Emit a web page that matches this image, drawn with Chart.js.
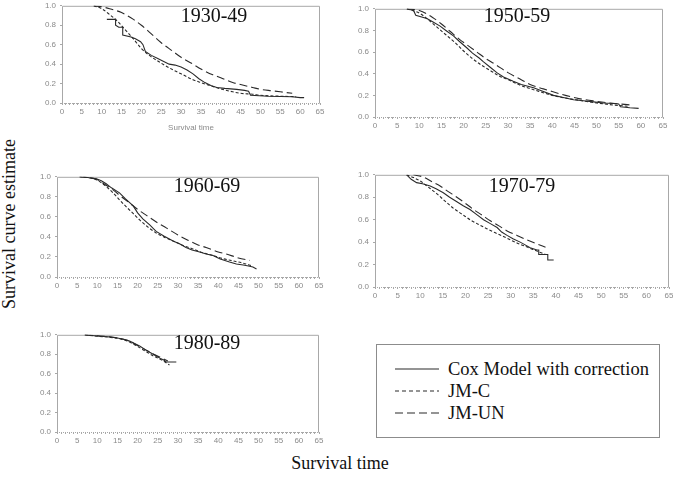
<!DOCTYPE html>
<html>
<head>
<meta charset="utf-8">
<script src="https://cdn.jsdelivr.net/npm/chart.js@4"></script>
<style>
  body { margin: 0; background: #fff; font-family: "Liberation Serif", "Times New Roman", serif; }
  #wrap { position: relative; width: 673px; height: 487px; overflow: hidden; }
  canvas { position: absolute; }
  .txt { position: absolute; white-space: nowrap; color: #111; line-height: 1; }
  .ptitle { font-size: 20px; transform: translate(-50%, -50%); }
  #ylab { font-size: 18px; left: 9px; top: 224px; transform: translate(-50%, -50%) rotate(-90deg); }
  #xlab { font-size: 18px; left: 340px; top: 463px; transform: translate(-50%, -50%); }
  #legend { position: absolute; left: 376px; top: 344px; width: 284px; height: 94px; border: 1px solid #8c8c8c; box-sizing: border-box; }
  .row { position: absolute; left: 18px; height: 20px; display: flex; align-items: center; font-size: 18.5px; color: #111; }
  .row svg { margin-right: 9px; }
</style>
</head>
<body>
<div id="wrap">
  <div id="ylab" class="txt">Survival curve estimate</div>
  <div id="xlab" class="txt">Survival time</div>
  <div id="legend"></div>
</div>
<script>
// ── data (survival time, survival estimate) ─────────────────────────────────
const SERIES_NAMES = ['Cox Model with correction', 'JM-C', 'JM-UN'];
const PANEL_TITLES = ['1930-49', '1950-59', '1960-69', '1970-79', '1980-89'];
const X_TICKS = [0, 5, 10, 15, 20, 25, 30, 35, 40, 45, 50, 55, 60, 65];
const Y_TICKS = [0.0, 0.1, 0.2, 0.3, 0.4, 0.5, 0.6, 0.7, 0.8, 0.9, 1.0];

// 1930-49
const cox30_t = [11.3, 13.5, 13.5, 14.3, 15.3, 15.3, 17.4, 18.5, 19.8, 20.4, 21, 22.5, 24, 25.5, 27, 28.5, 30, 31.5, 33, 34.5, 36, 37.5, 39, 41, 44, 46, 47, 47.5, 52, 58, 60, 61];
const cox30_s = [0.86, 0.86, 0.80, 0.78, 0.78, 0.70, 0.68, 0.66, 0.63, 0.60, 0.53, 0.49, 0.46, 0.43, 0.40, 0.39, 0.37, 0.34, 0.30, 0.25, 0.21, 0.18, 0.16, 0.15, 0.14, 0.13, 0.12, 0.08, 0.07, 0.065, 0.055, 0.055];
const jmc30_t = [8, 10, 12, 14, 16, 18, 20, 22, 25, 28, 30, 33, 35, 38, 40, 43, 45, 48, 50, 55, 59];
const jmc30_s = [1.0, 0.97, 0.91, 0.84, 0.75, 0.66, 0.56, 0.49, 0.41, 0.34, 0.30, 0.24, 0.21, 0.17, 0.145, 0.115, 0.10, 0.09, 0.08, 0.07, 0.065];
const jmu30_t = [8, 10, 12, 15, 18, 20, 22, 25, 28, 30, 33, 35, 38, 40, 43, 45, 48, 50, 53, 55, 58];
const jmu30_s = [1.0, 0.99, 0.97, 0.93, 0.86, 0.80, 0.73, 0.62, 0.53, 0.47, 0.40, 0.35, 0.29, 0.26, 0.21, 0.19, 0.16, 0.14, 0.125, 0.115, 0.10];

// 1950-59
const cox50_t = [7.2, 8.7, 9.2, 11.7, 13, 14.7, 16, 17.7, 19, 20.7, 22, 23.5, 24.5, 26, 27.5, 29, 31.2, 33, 35.8, 38, 40.3, 42.5, 44.8, 47, 49.3, 51.5, 53.8, 55, 55.4, 57.5, 59.5];
const cox50_s = [1.0, 0.985, 0.94, 0.91, 0.88, 0.84, 0.80, 0.75, 0.70, 0.64, 0.59, 0.545, 0.51, 0.46, 0.41, 0.37, 0.33, 0.30, 0.27, 0.235, 0.20, 0.18, 0.16, 0.15, 0.14, 0.13, 0.125, 0.12, 0.095, 0.085, 0.08];
const jmc50_t = [7.2, 10, 12, 14, 16, 18, 20, 22, 24, 26, 28, 30, 33, 36, 40, 43, 46, 50, 54, 57];
const jmc50_s = [1.0, 0.96, 0.90, 0.83, 0.76, 0.69, 0.61, 0.54, 0.48, 0.43, 0.38, 0.345, 0.29, 0.25, 0.20, 0.175, 0.155, 0.13, 0.11, 0.10];
const jmu50_t = [7.2, 10, 13, 15, 17, 19, 21, 23, 25, 27, 30, 33, 35, 38, 40, 43, 46, 50, 53, 58];
const jmu50_s = [1.0, 0.985, 0.92, 0.86, 0.79, 0.72, 0.66, 0.60, 0.54, 0.49, 0.41, 0.345, 0.30, 0.26, 0.235, 0.20, 0.17, 0.145, 0.13, 0.11];

// 1960-69
const cox60_t = [6.5, 8, 9.8, 11, 12.2, 13.5, 15.5, 17, 18.9, 20, 21.3, 23, 24.6, 26.5, 28.8, 30.5, 32, 33.5, 35.4, 37, 38.7, 40.5, 42.8, 44.5, 46.2, 47.5, 48.6, 49.5];
const cox60_s = [1.0, 0.99, 0.98, 0.96, 0.93, 0.89, 0.84, 0.78, 0.71, 0.64, 0.58, 0.52, 0.455, 0.41, 0.36, 0.33, 0.295, 0.27, 0.25, 0.23, 0.215, 0.18, 0.15, 0.13, 0.12, 0.11, 0.10, 0.08];
const jmc60_t = [5.6, 8, 9.8, 12, 13.9, 15.5, 17.2, 19, 20.5, 22.5, 24.6, 26.5, 28.8, 31, 33.7, 36, 38.7, 41, 43.7, 46, 48.5];
const jmc60_s = [1.0, 0.99, 0.97, 0.91, 0.84, 0.77, 0.70, 0.63, 0.57, 0.50, 0.44, 0.40, 0.36, 0.32, 0.28, 0.245, 0.215, 0.185, 0.16, 0.14, 0.11];
const jmu60_t = [5.6, 8, 9.8, 12, 13.9, 16, 18, 20, 22.2, 25, 27.1, 30, 32.1, 35, 37, 40, 42, 45, 47.8];
const jmu60_s = [1.0, 0.99, 0.975, 0.92, 0.87, 0.80, 0.74, 0.675, 0.615, 0.54, 0.49, 0.42, 0.375, 0.32, 0.295, 0.25, 0.23, 0.19, 0.165];

// 1970-79
const cox70_t = [7, 8, 9.2, 10.5, 12.2, 13.5, 15.1, 16.5, 18.1, 19.5, 21, 22.5, 24, 25.5, 27, 28, 29.2, 30.5, 32.1, 33, 34.3, 35.8, 36.2, 36.2, 38.2, 38.2, 39.5];
const cox70_s = [1.0, 0.96, 0.93, 0.92, 0.90, 0.875, 0.84, 0.80, 0.76, 0.725, 0.69, 0.645, 0.60, 0.565, 0.53, 0.49, 0.46, 0.43, 0.40, 0.38, 0.35, 0.33, 0.33, 0.29, 0.29, 0.24, 0.24];
const jmc70_t = [7, 8.5, 10, 11.8, 13.7, 15.5, 17.4, 19.2, 21, 22.8, 24.7, 26.5, 28.4, 30.2, 32.1, 34, 35.8, 37.7];
const jmc70_s = [1.0, 0.975, 0.945, 0.89, 0.83, 0.765, 0.70, 0.65, 0.60, 0.56, 0.52, 0.485, 0.45, 0.415, 0.38, 0.35, 0.32, 0.29];
const jmu70_t = [8.5, 10.7, 12.5, 14.4, 16.2, 18.1, 20, 21.8, 23.7, 25.5, 27.4, 29.2, 31.4, 33.6, 35.7, 37.7];
const jmu70_s = [1.0, 0.98, 0.94, 0.90, 0.85, 0.80, 0.745, 0.69, 0.64, 0.59, 0.545, 0.50, 0.46, 0.42, 0.385, 0.355];

// 1980-89
const cox80_t = [6.9, 8, 10.6, 12.5, 14.7, 16.5, 18, 19.5, 20.5, 22, 23, 24.5, 25.5, 26.5, 27.1, 29.6];
const cox80_s = [1.0, 0.995, 0.985, 0.98, 0.97, 0.955, 0.935, 0.905, 0.885, 0.845, 0.82, 0.785, 0.76, 0.74, 0.72, 0.72];
const jmc80_t = [6.9, 10, 13, 16, 18, 20, 22, 24, 26, 27.9];
const jmc80_s = [1.0, 0.985, 0.975, 0.955, 0.925, 0.88, 0.83, 0.78, 0.74, 0.69];
const jmu80_t = [6.9, 10, 13, 16, 18, 20, 22, 24, 26, 27.5];
const jmu80_s = [1.0, 0.99, 0.98, 0.96, 0.935, 0.89, 0.845, 0.80, 0.76, 0.73];

// ── layout: plot box [left, top, right, bottom] and title centre, page px ──
const PANELS = [
  { box: [62, 1, 320, 103],    title: [214, 15],  xTitle: true,  data: [[cox30_t, cox30_s], [jmc30_t, jmc30_s], [jmu30_t, jmu30_s]] },
  { box: [375, 4, 663, 117],   title: [517, 15],  xTitle: false, data: [[cox50_t, cox50_s], [jmc50_t, jmc50_s], [jmu50_t, jmu50_s]] },
  { box: [57, 172, 319, 277],  title: [207, 185], xTitle: false, data: [[cox60_t, cox60_s], [jmc60_t, jmc60_s], [jmu60_t, jmu60_s]] },
  { box: [375, 170, 669, 287], title: [522, 185], xTitle: false, data: [[cox70_t, cox70_s], [jmc70_t, jmc70_s], [jmu70_t, jmu70_s]] },
  { box: [57, 330, 319, 432],  title: [207, 342], xTitle: false, data: [[cox80_t, cox80_s], [jmc80_t, jmc80_s], [jmu80_t, jmu80_s]] },
];

const LINE_COLOR = '#2a2a2a';
const DASHES = [[], [3, 2], [8, 4]];
const AXIS_GREY = '#a8a8a8';
const TICK_FONT = { family: 'Liberation Sans, Arial, sans-serif', size: 8 };

const boxPlugin = {
  id: 'box',
  beforeDatasetsDraw(chart) {
    const { ctx, chartArea: a } = chart;
    ctx.save();
    ctx.strokeStyle = AXIS_GREY;
    ctx.lineWidth = 1;
    ctx.beginPath();
    ctx.moveTo(a.left + 0.5, a.bottom + 0.5);
    ctx.lineTo(a.left + 0.5, a.top + 0.5);
    ctx.lineTo(a.right - 0.5, a.top + 0.5);
    ctx.lineTo(a.right - 0.5, a.bottom + 0.5);
    ctx.stroke();
    ctx.setLineDash([1, 1]);
    ctx.beginPath();
    ctx.moveTo(a.left, a.bottom + 0.5);
    ctx.lineTo(a.right, a.bottom + 0.5);
    ctx.stroke();
    ctx.restore();
  }
};

function makePanel(p, idx) {
  const yW = 30, xH = p.xTitle ? 34 : 20, padT = 4, padR = 8;
  const [L, T, R, B] = p.box;
  const w = R - L + yW + padR, h = B - T + padT + xH;
  const c = document.createElement('canvas');
  c.width = w; c.height = h;
  c.style.left = (L - yW) + 'px';
  c.style.top = (T - padT) + 'px';
  c.style.width = w + 'px';
  c.style.height = h + 'px';
  const wrap = document.getElementById('wrap');
  wrap.appendChild(c);

  const t = document.createElement('div');
  t.className = 'txt ptitle';
  t.style.left = p.title[0] + 'px';
  t.style.top = p.title[1] + 'px';
  t.textContent = PANEL_TITLES[idx];
  wrap.appendChild(t);

  const datasets = p.data.map(([ts, ss], k) => ({
    label: SERIES_NAMES[k],
    data: ts.map((x, i) => ({ x, y: ss[i] })),
    borderColor: LINE_COLOR,
    borderWidth: 1.1,
    borderDash: DASHES[k],
    pointRadius: 0,
    tension: 0,
    cubicInterpolationMode: k === 0 ? 'default' : 'monotone',
    fill: false,
  }));

  new Chart(c, {
    type: 'line',
    data: { datasets },
    plugins: [boxPlugin],
    options: {
      responsive: false,
      animation: false,
      layout: { padding: { top: padT, right: padR, left: 0, bottom: 0 } },
      plugins: { legend: { display: false }, tooltip: { enabled: false } },
      scales: {
        x: {
          type: 'linear', min: 0, max: 65,
          afterFit: s => { s.height = xH; },
          afterBuildTicks: s => { s.ticks = Array.from({ length: 66 }, (_, i) => ({ value: i })); },
          ticks: {
            autoSkip: false, maxRotation: 0, padding: 2,
            color: '#8a8a8a', font: TICK_FONT,
            callback: v => X_TICKS.includes(v) ? String(v) : ''
          },
          grid: { drawOnChartArea: false, drawTicks: true, tickLength: 2, color: AXIS_GREY },
          border: { display: false },
          title: {
            display: p.xTitle, text: 'Survival time', color: '#8a8a8a',
            font: TICK_FONT, padding: { top: 0, bottom: 4 }
          }
        },
        y: {
          min: 0, max: 1,
          afterFit: s => { s.width = yW; },
          afterBuildTicks: s => { s.ticks = Y_TICKS.map(v => ({ value: v })); },
          ticks: { padding: 4, color: '#8a8a8a', font: TICK_FONT, callback: v => v.toFixed(1) },
          grid: { drawOnChartArea: false, drawTicks: true, tickLength: 2, color: AXIS_GREY },
          border: { display: false }
        }
      }
    }
  });
}

PANELS.forEach(makePanel);

// ── legend box ─────────────────────────────────────────────────────────────
const legend = document.getElementById('legend');
SERIES_NAMES.forEach((name, k) => {
  const row = document.createElement('div');
  row.className = 'row';
  row.style.top = (14 + k * 22) + 'px';
  row.innerHTML = `<svg width="44" height="4"><line x1="0" y1="2" x2="44" y2="2" stroke="${LINE_COLOR}"
    stroke-width="1.2" stroke-dasharray="${k === 0 ? 'none' : (k === 1 ? '4,3' : '8,4')}"/></svg><span>${name}</span>`;
  legend.appendChild(row);
});
</script>
</body>
</html>
